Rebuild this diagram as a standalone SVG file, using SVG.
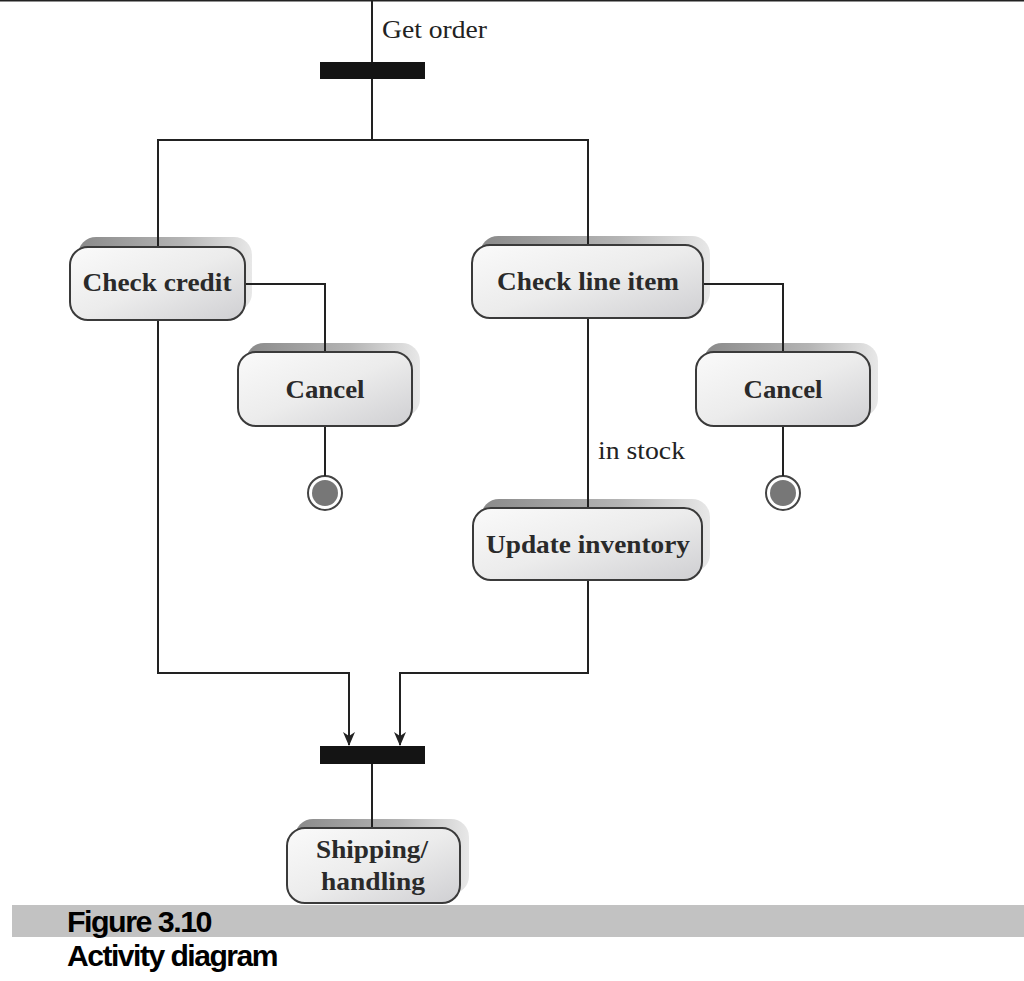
<svg xmlns="http://www.w3.org/2000/svg" width="1024" height="981" viewBox="0 0 1024 981">
<defs>
<linearGradient id="boxfill" x1="0" y1="0" x2="1" y2="1">
<stop offset="0" stop-color="#fafafa"/>
<stop offset="0.5" stop-color="#ececec"/>
<stop offset="1" stop-color="#cfcfd2"/>
</linearGradient>
<linearGradient id="shade" x1="0" y1="0" x2="1" y2="0">
<stop offset="0" stop-color="#8a8a8a"/>
<stop offset="0.6" stop-color="#b4b4b4"/>
<stop offset="1" stop-color="#e8e8e8"/>
</linearGradient>
<marker id="arr" markerWidth="14" markerHeight="12" refX="13" refY="6" orient="auto" markerUnits="userSpaceOnUse" viewBox="0 0 14 12">
<path d="M0,0 L14,6 L0,12 L4,6 Z" fill="#222"/>
</marker>
</defs>
<style>
.box{fill:url(#boxfill);stroke:#3a3a3a;stroke-width:2}
.sh{fill:url(#shade)}
.lbl{font-family:"Liberation Serif",serif;font-weight:bold;font-size:26px;fill:#2a2a2a;text-anchor:middle}
.txt{font-family:"Liberation Serif",serif;font-size:26px;fill:#222}
.ln{stroke:#222;stroke-width:2;fill:none}
.bar{fill:#141414}
.cap{font-family:"Liberation Sans",Arial,sans-serif;font-weight:bold;font-size:30px;fill:#000;letter-spacing:-1.5px}
</style>
<rect width="1024" height="981" fill="#fff"/>
<line x1="0" y1="0.5" x2="1024" y2="0.5" stroke="#222" stroke-width="2"/>
<g id="fork"><rect class="bar" x="320" y="62" width="105" height="17"/></g>
<g id="join"><rect class="bar" x="320" y="746" width="105" height="18"/></g>
<g id="check-credit">
<rect class="sh" x="78" y="237" width="174" height="74" rx="18"/>
<rect class="box" x="70" y="247" width="175" height="73" rx="18"/>
<text class="lbl" x="157" y="291" textLength="149" lengthAdjust="spacingAndGlyphs">Check credit</text>
</g>
<g id="check-line-item">
<rect class="sh" x="480" y="236" width="230" height="74" rx="18"/>
<rect class="box" x="472" y="245" width="231" height="73" rx="18"/>
<text class="lbl" x="588" y="290" textLength="182" lengthAdjust="spacingAndGlyphs">Check line item</text>
</g>
<g id="cancel-1">
<rect class="sh" x="246" y="343" width="174" height="74" rx="18"/>
<rect class="box" x="238" y="352" width="174" height="74" rx="18"/>
<text class="lbl" x="325" y="398" textLength="79" lengthAdjust="spacingAndGlyphs">Cancel</text>
</g>
<g id="cancel-2">
<rect class="sh" x="704" y="343" width="174" height="74" rx="18"/>
<rect class="box" x="696" y="352" width="174" height="74" rx="18"/>
<text class="lbl" x="783" y="398" textLength="79" lengthAdjust="spacingAndGlyphs">Cancel</text>
</g>
<g id="final-1">
<circle cx="325" cy="493" r="17" fill="#fff" stroke="#444" stroke-width="2"/>
<circle cx="325" cy="493" r="13" fill="#777"/>
</g>
<g id="final-2">
<circle cx="783" cy="493" r="17" fill="#fff" stroke="#444" stroke-width="2"/>
<circle cx="783" cy="493" r="13" fill="#777"/>
</g>
<g id="update-inventory">
<rect class="sh" x="481" y="499" width="229" height="73" rx="18"/>
<rect class="box" x="473" y="508" width="229" height="72" rx="18"/>
<text class="lbl" x="588" y="553" textLength="204" lengthAdjust="spacingAndGlyphs">Update inventory</text>
</g>
<g id="shipping-handling">
<rect class="sh" x="295" y="819" width="174" height="75" rx="18"/>
<rect class="box" x="287" y="828" width="173" height="75" rx="18"/>
<text class="lbl" x="372" y="858" textLength="112" lengthAdjust="spacingAndGlyphs">Shipping/</text>
<text class="lbl" x="373" y="890" textLength="104" lengthAdjust="spacingAndGlyphs">handling</text>
</g>
<g id="connectors">
<path class="ln" d="M372,0 V62"/>
<path class="ln" d="M372,79 V140"/>
<path class="ln" d="M158,246 V140 H588 V244"/>
<path class="ln" d="M246,284 H325 V351"/>
<path class="ln" d="M325,427 V476"/>
<path class="ln" d="M704,284 H783 V351"/>
<path class="ln" d="M783,427 V476"/>
<path class="ln" d="M588,319 V507"/>
<path class="ln" d="M158,321 V673 H349 V745" marker-end="url(#arr)"/>
<path class="ln" d="M588,581 V673 H400 V745" marker-end="url(#arr)"/>
<path class="ln" d="M372,764 V827"/>
<text class="txt" x="382" y="38" textLength="105" lengthAdjust="spacingAndGlyphs">Get order</text>
<text class="txt" x="598" y="459" textLength="87" lengthAdjust="spacingAndGlyphs">in stock</text>
</g>
<g id="caption">
<rect x="12" y="905" width="1012" height="32" fill="#c2c2c2"/>
<text class="cap" x="67" y="932" textLength="144" lengthAdjust="spacingAndGlyphs">Figure 3.10</text>
<text class="cap" x="67" y="966" textLength="210" lengthAdjust="spacingAndGlyphs">Activity diagram</text>
</g>
</svg>
